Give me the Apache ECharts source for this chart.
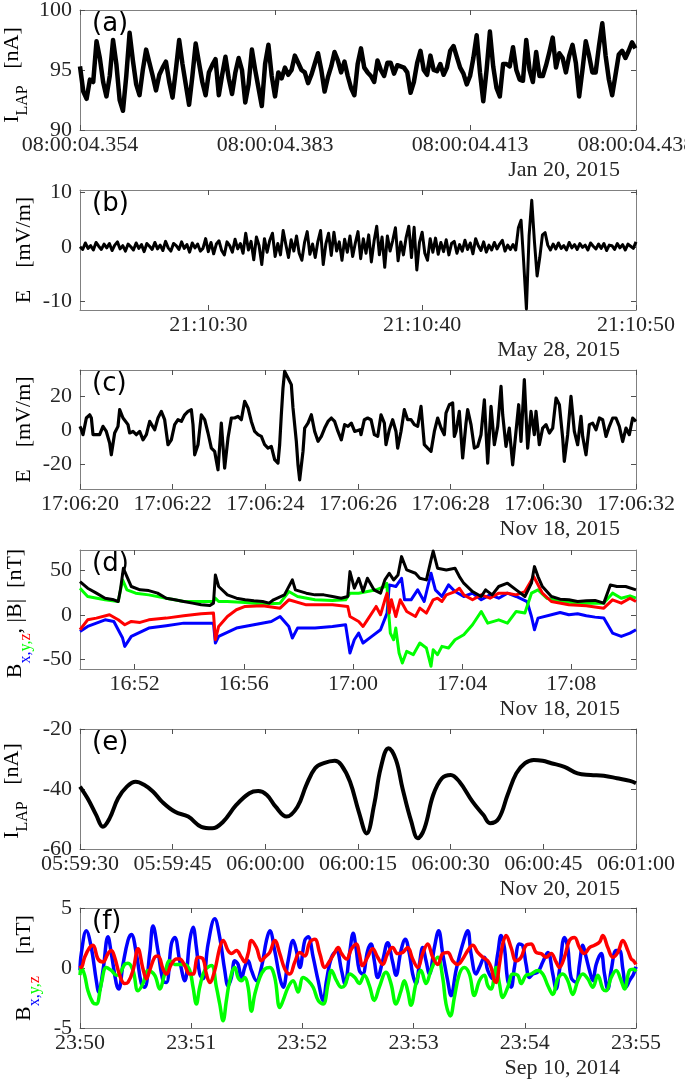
<!DOCTYPE html>
<html><head><meta charset="utf-8">
<script src="https://cdn.jsdelivr.net/npm/echarts@6/dist/echarts.min.js"></script>
<style>html,body{margin:0;padding:0;background:#fff}#c{width:685px;height:1081px}</style>
</head><body><div id="c"></div>
<script>
// ---------- DATA ----------
// (a) I_LAP [nA], time in ms after 08:00:04, sampled every 0.5 ms
const aT0 = 354, aDt = 0.5;
const aVals = [95.3,93.2,92.6,94.2,94.0,97.4,96.0,94.0,92.8,94.5,
97.5,95.5,92.5,91.6,94.5,98.1,95.8,93.8,92.9,95.0,
96.7,95.6,94.5,93.3,94.6,95.2,95.7,94.0,92.7,95.0,
97.5,95.5,93.8,92.1,94.5,97.2,95.6,94.0,92.9,94.8,
95.4,95.9,92.9,94.6,96.1,94.3,93.0,94.8,96.0,95.0,
92.3,93.8,96.7,95.0,93.5,92.0,95.5,97.1,94.5,92.8,
94.8,94.3,95.2,94.6,95.0,96.2,95.6,95.0,94.8,93.9,
94.6,95.5,96.4,95.0,93.2,94.4,95.3,96.5,95.8,94.8,
95.7,94.5,93.5,92.9,95.5,
96.8,95.2,94.8,94.5,94.0,95.8,95.0,94.5,95.6,95.6,
94.7,95.4,95.3,95.2,94.8,93.1,94.0,95.6,96.6,95.0,
94.6,96.2,95.0,94.9,95.5,94.6,95.2,96.6,97.0,96.1,
95.2,94.7,93.8,94.5,96.0,97.9,94.8,92.4,95.0,98.2,
95.3,93.5,92.8,95.5,95.5,95.3,96.9,95.0,94.2,94.1,
97.5,95.0,94.0,96.5,94.5,94.5,95.4,96.5,97.7,95.2,
96.4,96.0,94.8,96.2,97.1,95.6,92.8,95.0,97.4,96.2,
94.8,94.8,97.0,98.9,96.2,94.2,92.9,94.6,96.3,96.6,
96.0,96.6,97.3,96.8];
const aXTicks = [354, 383.5, 413, 438.1];
const aXLabels = ['08:00:04.354','08:00:04.383','08:00:04.413','08:00:04.438'];
const aYTicks = [90, 95, 100];

// (b) E [mV/m], time in s after 21:10:24, sampled every 0.125 s
const bT0 = 0, bDt = 0.125;
const bVals = [0.0,-0.5,0.7,-0.3,0.2,-0.6,0.8,0.1,-0.5,0.5,
-0.2,0.6,-0.7,0.3,0.9,-0.4,0.2,-0.8,0.5,0.0,
-0.6,0.7,-0.3,0.4,-0.9,0.6,0.1,-0.5,0.8,-0.4,
0.3,-0.7,1.0,-0.2,-0.8,0.6,0.2,-0.5,0.9,-0.3,
0.4,-1.0,0.7,-0.2,0.5,-0.8,-0.3,1.5,
-0.9,0.8,-1.3,0.5,1.1,-0.7,-1.5,0.9,0.2,-1.0,1.4,-0.4,0.6,-1.2,2.5,-0.6,1.0,-2.4,1.8,0.2,-3.3,1.5,-1.0,
1.2,2.5,-1.8,0.6,-1.5,3.0,0.4,-2.0,1.3,-0.8,
2.0,-1.2,-2.5,0.8,2.8,-1.4,0.5,-2.0,1.0,3.0,
-3.3,0.6,2.5,-1.6,2.7,-0.8,0.9,-2.5,1.4,-1.0,
2.0,-1.8,0.7,2.8,-2.2,1.5,-1.2,2.2,-2.8,1.0,
3.8,-1.5,1.8,-3.8,2.0,-0.8,1.2,3.5,-2.6,0.9,
-1.5,1.7,3.8,-2.0,3.6,-4.3,0.8,2.7,-1.2,-2.5,
1.5,-1.0,1.6,-1.4,0.8,-0.9,1.3,-1.5,0.6,1.0,
-1.2,0.4,-0.8,1.2,-0.5,0.7,-1.3,1.5,0.2,-0.7,
0.9,-1.0,0.3,-0.6,0.8,-0.4,0.5,1.2,-0.8,0.3,
-0.5,0.4,-0.6,
3.5,4.9,-3.0,-11.5,2.0,8.6,1.0,-5.4,-2.0,2.2,2.6,0.3,-0.6,
0.5,-0.4,0.7,-0.3,0.2,-0.6,0.8,-0.2,0.4,-0.5,0.6,-0.1,0.3,-0.6,0.7,0.1,
-0.4,0.5,-0.3,0.6,-0.7,0.3,0.2,-0.5,0.6,-0.2,0.4,-0.6,0.5,0.1,-0.3,0.9];
const bXTicks = [6, 16, 26];
const bXLabels = ['21:10:30','21:10:40','21:10:50'];
const bYTicks = [-10, 0, 10];

// (c) E [mV/m], [time s after 17:06:20, value]
const cData = [[0,2.1],[0.03,0.1],[0.065,-2.8],[0.137,7.0],[0.209,8.9],[0.245,7.0],[0.281,-2.8],[0.353,-2.8],[0.424,-2.8],[0.496,2.1],[0.568,-0.9],[0.640,-7.7],[0.676,-14.6],[0.748,-1.8],[0.820,2.1],[0.856,11.9],[0.928,7.0],[0.964,6.0],[1.036,3.1],[1.072,-1.8],[1.144,-0.9],[1.216,-2.8],[1.288,-0.9],[1.360,-5.8],[1.432,-2.8],[1.504,5.0],[1.540,4.0],[1.612,0.1],[1.683,7.0],[1.755,10.9],[1.827,6.0],[1.899,-8.7],[1.971,-5.8],[2.043,3.1],[2.115,6.0],[2.187,5.0],[2.259,8.9],[2.331,10.9],[2.403,11.9],[2.439,3.1],[2.475,-14.6],[2.547,-8.7],[2.619,8.9],[2.691,6.0],[2.763,-1.8],[2.835,-10.7],[2.906,-12.6],[2.978,-23.4],[3.050,4.0],[3.086,4.0],[3.122,-22.4],[3.194,-4.8],[3.266,7.0],[3.338,7.0],[3.410,8.0],[3.482,6.0],[3.554,16.8],[3.626,12.9],[3.698,5.0],[3.770,-0.9],[3.842,-2.8],[3.914,-3.8],[3.986,-8.7],[4.058,-10.7],[4.129,-9.7],[4.201,-17.5],[4.273,-19.5],[4.309,-8.7],[4.345,8.9],[4.381,24.6],[4.417,34.4],[4.489,30.5],[4.561,26.6],[4.597,12.9],[4.669,-6.7],[4.705,-20.5],[4.741,-29.3],[4.813,-12.6],[4.849,1.1],[4.921,4.0],[4.993,8.9],[5.065,-0.9],[5.137,-6.7],[5.209,-3.8],[5.281,1.1],[5.353,5.0],[5.424,7.0],[5.496,5.0],[5.568,-0.9],[5.640,-5.8],[5.712,3.1],[5.784,2.1],[5.856,4.0],[5.928,-0.9],[6.043,0.1],
[6.065,-2.8],[6.137,6.0],[6.209,7.0],[6.281,6.0],[6.353,-2.8],[6.425,-3.8],[6.497,8.9],[6.569,4.0],[6.604,-8.7],[6.676,0.1],[6.748,6.0],[6.820,-0.9],[6.856,-10.7],[6.928,-0.9],[7.000,11.9],[7.072,6.0],[7.144,6.0],[7.216,3.1],[7.288,2.1],[7.360,13.8],[7.432,-8.7],[7.504,-10.7],[7.576,-12.6],[7.648,-0.9],[7.720,7.0],[7.792,1.1],[7.863,-2.8],[7.899,9.9],[7.971,14.8],[8.043,15.8],[8.079,-3.8],[8.115,-0.9],[8.187,10.9],[8.259,-16.5],[8.331,4.0],[8.367,11.9],[8.439,3.1],[8.511,-10.7],[8.583,-9.7],[8.655,-2.8],[8.727,17.7],[8.799,-19.5],[8.871,13.8],[8.943,-8.7],[9.015,2.1],[9.087,25.6],[9.123,8.9],[9.194,-9.7],[9.266,1.1],[9.338,-20.5],[9.410,-0.9],[9.468,14.8],[9.518,-6.7],[9.590,29.5],[9.626,8.9],[9.662,-10.7],[9.734,10.9],[9.806,-2.8],[9.842,10.9],[9.914,-8.7],[9.986,1.1],[10.058,3.1],[10.130,-1.8],[10.202,1.1],[10.274,18.7],[10.346,14.8],[10.418,-4.8],[10.453,-18.5],[10.525,-2.8],[10.597,19.7],[10.669,-0.9],[10.741,-8.7],[10.813,8.0],[10.849,-3.8],[10.921,-14.6],[10.993,3.1],[11.065,4.0],[11.137,0.1],[11.209,7.0],[11.281,6.0],[11.353,-3.8],[11.425,2.1],[11.497,7.0],[11.568,7.0],[11.640,2.1],[11.712,-6.8],[11.784,1.1],[11.856,-2.8],[11.928,7.0],[12.0,5.0]];
const cXTicks = [0,2,4,6,8,10,12];
const cXLabels = ['17:06:20','17:06:22','17:06:24','17:06:26','17:06:28','17:06:30','17:06:32'];
const cYTicks = [-20, 0, 20];

// (d) B [nT], [time min after 16:50, value]
const dBx = [[0,-18.5],[0.28,-13.0],[0.60,-9.3],[0.92,-5.6],[1.24,-7.4],[1.56,-25.9],[1.64,-35.2],[1.88,-24.1],[2.52,-14.8],[3.16,-12.2],[3.80,-9.3],[4.44,-9.3],[4.89,-9.3],[4.96,-31.5],[5.08,-24.1],[5.73,-14.8],[6.37,-11.1],[7.01,-7.4],[7.33,-1.9],[7.65,-13.0],[7.78,-25.9],[7.97,-14.8],[8.61,-14.8],[9.25,-13.0],[9.73,-11.1],[9.89,-42.6],[10.05,-27.8],[10.21,-20.4],[10.37,-31.5],[10.69,-24.1],[11.01,-16.7],[11.25,1.9],[11.33,33.3],[11.57,31.5],[11.78,40.7],[11.89,16.7],[12.13,16.7],[12.37,27.8],[12.61,14.8],[12.86,46.3],[13.02,27.8],[13.26,20.4],[13.50,33.3],[13.74,25.9],[14.06,20.4],[14.38,24.1],[14.70,16.7],[15.02,22.2],[15.34,18.5],[15.66,24.1],[15.98,20.4],[16.38,14.8],[16.54,-1.9],[16.65,-16.7],[16.78,-3.7],[17.27,0],[17.59,2.6],[17.91,0],[18.23,1.1],[18.55,-1.1],[18.87,-2.6],[19.19,-3.7],[19.51,-20.4],[19.83,-24.1],[20.15,-20.4],[20.37,-16.7]];
const dBy = [[0,29.6],[0.28,20.4],[0.92,16.7],[1.40,14.8],[1.56,38.9],[1.72,27.8],[2.04,24.1],[2.52,22.2],[3.16,18.5],[3.80,14.8],[4.44,14.8],[4.89,14.8],[4.96,18.5],[5.08,14.8],[5.40,14.8],[6.05,13.7],[6.69,11.9],[7.33,13.0],[7.65,25.9],[7.97,20.4],[8.61,16.7],[9.25,15.9],[9.73,16.7],[9.89,24.1],[10.21,24.1],[10.53,25.9],[10.85,27.8],[11.17,31.5],[11.24,35.2],[11.30,5.6],[11.37,-20.4],[11.49,-27.8],[11.57,-14.8],[11.69,-42.6],[11.81,-53.7],[11.97,-40.7],[12.21,-44.4],[12.45,-31.5],[12.69,-37.0],[12.86,-57.4],[12.94,-38.9],[13.10,-44.4],[13.26,-35.2],[13.50,-37.0],[13.74,-27.8],[14.06,-22.2],[14.38,-11.1],[14.70,3.7],[14.94,-9.3],[15.34,-5.6],[15.66,-9.3],[15.98,3.7],[16.30,1.9],[16.54,24.1],[16.78,27.8],[17.10,18.5],[17.59,14.8],[18.23,13.0],[18.87,13.0],[19.19,13.0],[19.51,24.1],[19.83,18.5],[20.15,21.1],[20.37,18.5]];
const dBz = [[0,-16.7],[0.28,-5.6],[0.60,-3.7],[1.08,0],[1.40,-5.6],[1.64,-11.1],[1.88,-7.4],[2.20,-8.5],[2.52,-5.6],[3.16,-3.7],[3.80,-1.1],[4.44,1.1],[4.89,1.9],[4.96,-27.8],[5.08,-13.0],[5.40,-1.9],[5.73,5.6],[6.05,9.3],[6.69,10.0],[7.33,7.4],[7.65,16.7],[8.29,11.1],[9.25,11.1],[9.81,9.3],[9.89,-1.9],[10.21,-7.4],[10.37,-13.0],[10.53,-5.6],[10.85,9.3],[11.01,0],[11.17,16.7],[11.25,24.1],[11.33,1.9],[11.41,16.7],[11.57,-1.9],[11.73,16.7],[11.97,3.7],[12.29,-1.9],[12.45,7.4],[12.69,1.9],[12.94,16.7],[13.10,18.5],[13.26,14.8],[13.42,22.2],[13.74,25.9],[13.90,29.6],[14.06,22.2],[14.38,16.7],[14.70,22.2],[15.02,18.5],[15.34,24.1],[15.66,24.1],[15.98,22.2],[16.30,25.9],[16.62,42.6],[16.94,24.1],[17.27,14.8],[17.91,11.1],[18.55,10.0],[19.19,7.4],[19.51,16.7],[19.83,13.0],[20.15,18.5],[20.37,14.8]];
const dBt = [[0,37.0],[0.28,29.6],[0.60,24.1],[0.92,18.5],[1.24,16.7],[1.40,14.8],[1.48,27.8],[1.59,51.9],[1.72,42.6],[1.88,31.5],[2.20,27.8],[2.52,27.0],[2.84,24.1],[3.16,18.5],[3.48,16.7],[3.80,14.8],[4.12,13.0],[4.44,11.1],[4.76,10.4],[4.89,13.0],[4.96,44.4],[5.08,31.5],[5.40,22.2],[5.73,18.5],[6.05,16.7],[6.37,15.6],[6.69,14.8],[6.93,13.0],[7.09,16.7],[7.49,22.2],[7.78,38.9],[7.89,27.8],[8.29,24.1],[8.61,22.2],[8.93,22.2],[9.25,20.4],[9.57,18.5],[9.81,20.4],[9.89,48.1],[10.05,29.6],[10.21,40.7],[10.37,25.9],[10.53,40.7],[10.77,27.8],[11.01,24.1],[11.17,38.9],[11.33,46.3],[11.49,38.9],[11.65,44.4],[11.78,64.8],[11.97,50.0],[12.29,46.3],[12.45,40.7],[12.69,38.9],[12.86,61.1],[12.94,71.0],[13.10,51.9],[13.42,50.0],[13.74,51.9],[13.90,42.6],[14.06,35.2],[14.38,25.9],[14.70,20.4],[14.86,27.8],[15.10,22.2],[15.34,31.5],[15.66,35.2],[15.98,27.8],[16.30,20.4],[16.54,35.2],[16.65,53.7],[16.78,42.6],[16.94,31.5],[17.27,20.4],[17.59,17.4],[17.91,16.7],[18.23,14.8],[18.55,15.6],[18.87,16.0],[19.19,13.0],[19.43,33.3],[19.67,31.5],[19.99,31.5],[20.37,27.8]];
const dXTicks = [2, 6, 10, 14, 18];
const dXLabels = ['16:52','16:56','17:00','17:04','17:08'];
const dYTicks = [-50, 0, 50];

// (e) I_LAP [nA], [time s after 05:59:30, value]
const eData = [[0,-39.2],[1.22,-43.1],[2.63,-48.7],[3.70,-52.6],[4.79,-49.8],[6.17,-43.1],[7.59,-39.2],[9.01,-37.6],[10.43,-38.7],[11.84,-40.9],[13.26,-44.2],[15.38,-47.6],[17.51,-49.2],[19.63,-52.6],[21.40,-53.1],[23.17,-50.9],[25.30,-45.3],[27.42,-41.4],[28.84,-40.7],[30.25,-42.0],[31.67,-45.9],[33.44,-49.2],[35.21,-45.9],[36.63,-38.7],[38.05,-33.1],[39.46,-31.4],[41.23,-30.6],[42.30,-32.0],[43.71,-37.6],[45.13,-47.6],[46.40,-54.8],[47.61,-45.3],[48.67,-33.1],[49.94,-26.4],[51.15,-30.3],[52.21,-39.8],[53.63,-50.9],[54.69,-56.4],[55.76,-53.1],[57.17,-42.0],[58.59,-36.4],[60.01,-35.3],[61.42,-37.6],[63.54,-44.2],[65.31,-48.7],[66.37,-51.4],[67.79,-49.8],[69.21,-42.0],[70.62,-34.8],[72.04,-31.4],[73.46,-30.3],[74.87,-30.6],[76.29,-31.4],[78.41,-32.6],[80.54,-34.8],[82.66,-35.3],[84.78,-35.6],[86.91,-36.4],[89.03,-37.3],[90,-38.1]];
const eXTicks = [0, 15, 30, 45, 60, 75, 90];
const eXLabels = ['05:59:30','05:59:45','06:00:00','06:00:15','06:00:30','06:00:45','06:01:00'];
const eYTicks = [-60, -40, -20];

// (f) B [nT], [time s after 23:50, value]
const fBx = [[0,-0.2],[0.7,1.2],[3.4,3.1],[6.1,1.7],[8.8,-1.06],[10.1,-2.0],[12.4,-0.2],[15.1,2.6],[16.9,1.2],[19.6,-1.3],[20.9,-1.75],[23.2,0.3],[25.9,2.3],[27.7,2.8],[30.4,1.2],[33.1,-1.3],[34.9,-1.6],[37.6,1.2],[39.4,3.5],[42.1,1.4],[44.8,-1.06],[46.6,-1.2],[49.3,2.0],[51.1,2.55],[53.8,0.6],[56.5,-1.06],[59.2,2.3],[61.0,3.4],[62.8,1.7],[64.6,-0.5],[66.4,-0.9],[69.1,2.0],[72.7,4.1],[75.4,2.55],[78.1,-0.2],[79.9,-1.5],[81.7,-0.8],[83.5,0.6],[85.3,0.3],[87.1,-0.9],[88.9,0.05],[90.7,0.6],[92.5,-0.2],[95.2,-1.06],[97.9,0.05],[100.6,2.3],[102.4,3.1],[105.1,1.4],[107.8,-0.8],[109.6,-1.6],[112.3,0.6],[115.0,2.3],[116.8,1.4],[118.6,0.05],[121.3,2.3],[123.1,2.6],[125.8,0.9],[128.5,-1.06],[131.2,-2.7],[133.0,-1.06],[135.7,0.9],[138.4,1.4],[141.1,-0.2],[142.9,-1.3],[145.6,1.4],[147.4,2.9],
[148.9,1.7],[150.7,-0.2],[152.5,-0.5],[155.2,1.45],[157.0,2.0],[158.8,0.6],[160.6,-0.8],[163.3,0.6],[166.0,2.1],[168.7,0.5],[170.5,-0.6],[173.2,1.45],[175.5,2.4],[177.7,1.2],[179.5,-0.5],[181.3,-1.3],[183.1,0.3],[184.9,1.7],[186.7,0.6],[188.5,-0.5],[191.2,1.7],[193.5,3.1],[195.7,1.2],[198.4,-1.06],[200.2,-2.3],[202.9,-0.2],[206.5,2.0],[209.2,3.1],[211.0,1.2],[213.7,-0.5],[215.5,0.05],[218.2,0.9],[220.0,-0.2],[222.7,-0.9],[225.4,1.2],[227.2,2.7],[229.0,1.7],[230.8,-1.06],[232.6,-1.6],[234.4,0.05],[237.1,2.0],[238.9,1.85],[240.7,0.3],[242.5,-0.8],[244.3,-0.5],[247.0,-0.35],[249.7,0.5],[252.4,1.3],[255.1,-0.5],[256.9,-1.75],[258.7,-0.2],[261.4,2.55],[263.2,1.7],[265.0,-0.8],[267.7,-1.2],[269.5,0.3],[271.3,1.9],[273.1,0.9],[274.9,-0.2],[276.7,-1.06],[278.5,0.3],[281.2,1.2],[283.0,-0.5],[284.8,-1.75],[286.6,-0.2],[289.3,1.45],[291.1,1.45],[292.9,-0.08],[294.7,-1.6],[296.5,-1.06],[298.7,-0.5],[300,0.1]];
const fBy = [[0,-0.6],[0.7,0.05],[2.5,-0.6],[4.3,-1.9],[7.0,-2.9],[8.8,-3.0],[11.5,-1.3],[14.2,0.05],[16.9,-0.2],[19.6,-0.6],[21.4,-0.5],[24.1,0.3],[25.9,0.4],[28.6,-0.2],[31.3,-1.9],[34.0,-1.3],[36.7,-0.2],[40.3,-0.6],[43.0,-1.75],[45.7,-0.5],[48.4,0.6],[51.1,0.3],[53.8,0.3],[56.5,0.3],[59.2,-0.2],[61.0,-1.6],[62.8,-3.0],[64.6,-1.6],[67.3,-0.2],[70.9,0.2],[73.6,-1.6],[75.4,-3.0],[77.2,-4.4],[79.0,-2.7],[80.8,-1.06],[83.5,0.05],[85.3,-0.8],[87.1,-1.06],[88.9,-0.8],[90.7,-1.6],[92.5,-3.6],[94.3,-2.2],[97.0,-0.8],[99.7,-0.08],[102.4,0.05],[105.1,-0.8],[107.8,-3.3],[109.6,-2.7],[112.3,-1.6],[115.0,-1.06],[117.7,-2.0],[120.4,-0.8],[123.1,-1.06],[125.8,-1.6],[128.5,-2.7],[131.2,-3.0],[133.9,-1.3],[135.7,-0.2],[138.4,-1.06],[141.1,-1.6],[142.9,-1.45],[145.6,-0.5],[148.3,-0.8],
[150.7,-1.3],[153.4,-0.6],[156.1,-1.45],[158.8,-2.7],[161.5,-1.6],[165.1,-0.35],[167.8,-1.3],[170.5,-3.0],[173.2,-1.9],[175.0,-1.06],[176.8,-1.9],[178.6,-3.1],[181.3,-1.3],[184.0,-0.2],[186.7,-1.3],[189.4,-0.2],[193.0,0.9],[195.7,-0.8],[197.5,-3.0],[199.8,-4.0],[202.0,-2.45],[204.7,-0.5],[207.4,0.05],[210.1,-0.5],[212.8,-2.3],[215.5,-1.06],[218.2,-0.6],[220.0,-1.45],[221.8,-1.75],[224.5,0.05],[226.3,-1.3],[228.1,-2.45],[230.8,-1.6],[233.5,-0.5],[236.2,-0.6],[238.0,-1.3],[240.7,-0.6],[243.4,-0.5],[247.0,-0.2],[249.7,-0.5],[252.4,-1.45],[255.1,-2.2],[257.8,-0.9],[260.5,-0.5],[263.2,-1.06],[265.9,-2.2],[268.6,-1.06],[271.3,-0.5],[274.0,-0.9],[276.7,-1.6],[279.4,-0.6],[282.1,-1.75],[283.9,-1.9],[286.6,-0.8],[289.3,-0.2],[292.0,-1.06],[293.8,-1.75],[296.5,-0.2],[298.7,-0.1],[300,-0.3]];
const fBz = [[0,0.2],[0.7,0.05],[2.5,0.9],[5.2,1.7],[7.0,1.9],[9.7,0.75],[12.4,0.5],[15.1,1.2],[16.9,1.45],[18.7,0.9],[21.4,-0.6],[24.1,-1.3],[25.9,-1.2],[28.6,-0.2],[31.3,1.6],[34.0,-0.08],[35.8,-0.9],[37.6,-0.2],[40.3,0.9],[42.1,1.0],[44.8,-0.08],[46.6,-0.5],[49.3,0.3],[52.0,0.75],[53.8,0.75],[56.5,0.2],[59.2,-0.5],[61.0,-0.5],[63.7,0.9],[66.4,0.75],[68.2,-0.5],[70.0,-1.2],[72.7,-0.2],[75.4,1.7],[77.2,2.3],[79.9,1.45],[81.7,1.2],[84.4,1.45],[87.1,0.9],[88.9,0.5],[90.7,1.2],[92.5,2.3],[95.2,1.7],[97.9,0.6],[99.7,0.9],[102.4,1.3],[105.1,2.3],[107.8,1.2],[110.5,-0.08],[113.2,-0.5],[115.9,0.5],[118.6,1.3],[121.3,1.0],[124.0,2.15],[126.7,2.4],[129.4,1.2],[132.1,0.05],[134.8,0.6],[137.5,1.3],[139.3,1.7],[141.1,1.2],[143.8,0.75],[146.5,1.6],[149.2,2.0],
[150.7,1.2],[152.5,0.2],[155.2,0.9],[157.9,1.6],[160.6,0.9],[163.3,0.3],[166.0,1.2],[168.7,1.7],[171.4,1.2],[174.1,1.3],[176.8,1.7],[179.5,0.75],[182.2,0.05],[184.9,1.2],[187.6,2.0],[190.3,0.9],[193.0,0.3],[195.7,1.2],[198.4,1.3],[201.1,0.6],[203.8,0.3],[206.5,0.75],[209.2,1.45],[211.9,1.9],[214.6,1.3],[217.3,0.9],[220.0,0.6],[221.8,0.05],[223.6,-1.06],[224.5,-1.2],[226.3,0.3],[228.1,2.0],[229.9,2.7],[232.6,1.7],[235.3,0.6],[238.0,0.9],[240.7,1.9],[243.4,2.0],[246.1,1.3],[248.8,1.2],[251.5,0.9],[254.2,1.2],[256.9,0.5],[258.7,0.05],[261.4,0.9],[264.1,2.3],[266.8,2.55],[269.5,1.7],[272.2,1.2],[274.9,1.7],[277.6,1.9],[280.3,2.15],[282.1,2.7],[284.8,1.7],[287.5,0.9],[290.2,1.3],[292.9,2.3],[295.6,1.45],[297.4,0.75],[298.7,0.6],[300,0.3]];
const fXTicks = [0, 60, 120, 180, 240, 300];
const fXLabels = ['23:50','23:51','23:52','23:53','23:54','23:55'];
const fYTicks = [-5, 0, 5];

const panelLetters = ['(a)','(b)','(c)','(d)','(e)','(f)'];
const dateLabels = ['Jan 20, 2015','May 28, 2015','Nov 18, 2015','Nov 18, 2015','Nov 20, 2015','Sep 10, 2014'];
const yTitles = [
  '{m|I}{s|LAP}{m|   [nA]}',
  '{m|E    [mV/m]}',
  '{m|E    [mV/m]}',
  '{m|B}{sx|x,}{sy|y,}{sz|z}{m|, |B|  [nT]}',
  '{m|I}{s|LAP}{m|   [nA]}',
  '{m|B}{sx|x,}{sy|y,}{sz|z}{m|    [nT]}'
];

// ---------- LAYOUT / STYLE ----------
const serif = 'Liberation Serif';
const BLUE = '#0000ff', GREEN = '#00ff00', RED = '#ff0000', BLACK = '#000000';
const uniform = (t0, dt, vals) => vals.map((v, i) => [t0 + i * dt, v]);

const panels = [
  {top: 10,  height: 120, xMin: 354, xMax: 438.1, xT: aXTicks, xL: aXLabels, yMin: 90, yMax: 100, yT: aYTicks, titleX: 1, titleDy: 5,
   series: [{data: uniform(aT0, aDt, aVals), color: BLACK, width: 4.5}]},
  {top: 190, height: 120, xMin: 0, xMax: 26, xT: bXTicks, xL: bXLabels, yMin: -11.7, yMax: 10.5, yT: bYTicks, titleX: 13, titleDy: 0,
   series: [{data: uniform(bT0, bDt, bVals), color: BLACK, width: 3}]},
  {top: 370, height: 119, xMin: 0, xMax: 12, xT: cXTicks, xL: cXLabels, yMin: -34.7, yMax: 35.2, yT: cYTicks, titleX: 13, titleDy: 0,
   series: [{data: cData, color: BLACK, width: 3.2}]},
  {top: 550, height: 119, xMin: 0, xMax: 20.37, xT: dXTicks, xL: dXLabels, yMin: -60.4, yMax: 72.2, yT: dYTicks, titleX: 4, titleDy: 4,
   series: [{data: dBx, color: BLUE, width: 3}, {data: dBy, color: GREEN, width: 3}, {data: dBz, color: RED, width: 3}, {data: dBt, color: BLACK, width: 3}]},
  {top: 729, height: 120, xMin: 0, xMax: 90, xT: eXTicks, xL: eXLabels, yMin: -60, yMax: -20, yT: eYTicks, titleX: 1, titleDy: 2,
   series: [{data: eData, color: BLACK, width: 4, smooth: 0.4}]},
  {top: 908, height: 120, xMin: 0, xMax: 300, xT: fXTicks, xL: fXLabels, yMin: -5, yMax: 5, yT: fYTicks, titleX: 13, titleDy: 0,
   series: [{data: fBx, color: BLUE, width: 3.5, smooth: 0.4}, {data: fBy, color: GREEN, width: 3.5, smooth: 0.4}, {data: fBz, color: RED, width: 3.5, smooth: 0.4}]}
];

function fmt(ticks, labels) {
  return function (v) {
    let k = 0, best = Infinity;
    ticks.forEach((t, i) => { const d = Math.abs(t - v); if (d < best) { best = d; k = i; } });
    return labels[k];
  };
}

const boxColor = '#808080', tickColor = '#505050';
const grid = [], xAxis = [], yAxis = [], series = [], graphic = [];
const rich = {
  m:  {fontSize: 22, fontFamily: serif, fill: '#000', lineHeight: 24, verticalAlign: 'top'},
  s:  {fontSize: 16, fontFamily: serif, fill: '#000', lineHeight: 16, padding: [14, 0, 0, 0], verticalAlign: 'top'},
  sx: {fontSize: 16, fontFamily: serif, fill: BLUE,  lineHeight: 16, padding: [14, 0, 0, 0], verticalAlign: 'top'},
  sy: {fontSize: 16, fontFamily: serif, fill: GREEN, lineHeight: 16, padding: [14, 0, 0, 0], verticalAlign: 'top'},
  sz: {fontSize: 16, fontFamily: serif, fill: RED,   lineHeight: 16, padding: [14, 0, 0, 0], verticalAlign: 'top'}
};

panels.forEach((p, gi) => {
  grid.push({left: 80, width: 556, top: p.top, height: p.height, outerBoundsMode: 'none'});
  const line = {show: true, onZero: false, lineStyle: {color: boxColor, width: 1}};
  const tick = (vals) => ({show: true, inside: true, length: 5, customValues: vals, lineStyle: {color: tickColor, width: 1}});
  xAxis.push({type: 'value', gridIndex: gi, min: p.xMin, max: p.xMax, position: 'bottom',
    axisLine: line, axisTick: tick(p.xT), splitLine: {show: false},
    axisLabel: {customValues: p.xT, formatter: fmt(p.xT, p.xL), fontFamily: serif, fontSize: 22, color: '#262626', margin: 4}});
  xAxis.push({type: 'value', gridIndex: gi, min: p.xMin, max: p.xMax, position: 'top',
    axisLine: line, axisTick: tick(p.xT), splitLine: {show: false}, axisLabel: {show: false}});
  yAxis.push({type: 'value', gridIndex: gi, min: p.yMin, max: p.yMax, position: 'left',
    axisLine: line, axisTick: tick(p.yT), splitLine: {show: false},
    axisLabel: {customValues: p.yT, formatter: (v) => String(Math.round(v)), fontFamily: serif, fontSize: 22, color: '#262626', margin: 8}});
  yAxis.push({type: 'value', gridIndex: gi, min: p.yMin, max: p.yMax, position: 'right',
    axisLine: line, axisTick: tick(p.yT), splitLine: {show: false}, axisLabel: {show: false}});
  p.series.forEach((s) => {
    series.push({type: 'line', xAxisIndex: 2 * gi, yAxisIndex: 2 * gi, data: s.data,
      symbol: 'none', showSymbol: false, smooth: s.smooth || false, silent: true,
      lineStyle: {color: s.color, width: s.width, join: 'round'}});
  });
  graphic.push({type: 'text', x: 92, y: p.top + 14,
    style: {text: panelLetters[gi], fontFamily: 'DejaVu Sans', fontSize: 26, fill: '#000', align: 'left', verticalAlign: 'middle'}});
  graphic.push({type: 'text', x: 620, y: p.top + p.height + 40,
    style: {text: dateLabels[gi], fontFamily: serif, fontSize: 22, fill: '#262626', align: 'right', verticalAlign: 'middle'}});
  graphic.push({type: 'text', x: p.titleX, y: p.top + p.height / 2 + p.titleDy, rotation: Math.PI / 2,
    style: {text: yTitles[gi], rich: rich, fontFamily: serif, fontSize: 22, fill: '#000', align: 'center', verticalAlign: 'top'}});
});

const chart = echarts.init(document.getElementById('c'), null, {renderer: 'canvas'});
chart.setOption({backgroundColor: '#ffffff', animation: false, grid, xAxis, yAxis, series, graphic});
</script></body></html>
